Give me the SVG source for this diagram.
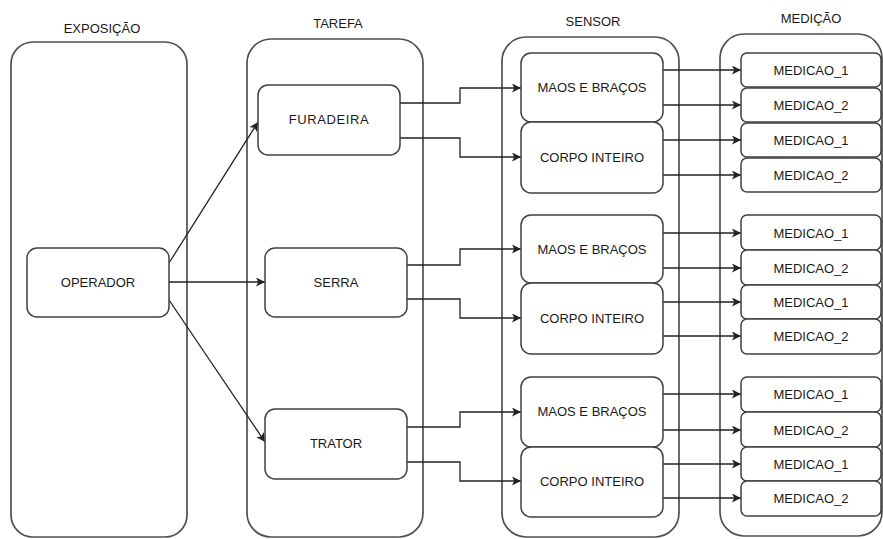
<svg xmlns="http://www.w3.org/2000/svg" width="883" height="539" viewBox="0 0 883 539">
  <defs>
    <marker id="arrow" viewBox="0 0 10 10" refX="10" refY="5" markerWidth="9" markerHeight="9" markerUnits="userSpaceOnUse" orient="auto">
      <path d="M0,0 L10,5 L0,10 L2.5,5 Z" fill="#222"/>
    </marker>
  </defs>
  <style>
    text { font-family: "Liberation Sans", Arial, sans-serif; font-size: 13px; fill: #1a1a1a; text-anchor: middle; }
    .lane { fill: none; stroke: #505050; stroke-width: 1.7; }
    .node { fill: #fff; stroke: #404040; stroke-width: 1.5; }
    .edge { fill: none; stroke: #222; stroke-width: 1.3; marker-end: url(#arrow); }
  </style>
  <rect width="883" height="539" fill="#fff"/>

  <!-- lanes -->
  <g id="lane-exposicao">
    <rect class="lane" x="11" y="42" width="176" height="495" rx="22"/>
    <text x="102" y="33">EXPOSIÇÃO</text>
  </g>
  <g id="lane-tarefa">
    <rect class="lane" x="247" y="39" width="176" height="498" rx="24"/>
    <text x="338" y="28">TAREFA</text>
  </g>
  <g id="lane-sensor">
    <rect class="lane" x="502" y="37" width="177" height="500" rx="24"/>
    <text x="593" y="26">SENSOR</text>
  </g>
  <g id="lane-medicao">
    <rect class="lane" x="720" y="34" width="162" height="502" rx="24"/>
    <text x="811" y="23">MEDIÇÃO</text>
  </g>

  <!-- connectors -->
  <g id="connectors">
    <path class="edge" d="M169,263 L258,122"/>
    <path class="edge" d="M169,282 L265,282"/>
    <path class="edge" d="M169,300 L265,442"/>

    <path class="edge" d="M400,103 H460 V88 H521"/>
    <path class="edge" d="M400,138 H460 V157 H521"/>
    <path class="edge" d="M407,265 H460 V249 H521"/>
    <path class="edge" d="M407,299 H460 V318 H521"/>
    <path class="edge" d="M407,427 H460 V412 H521"/>
    <path class="edge" d="M407,462 H460 V481 H521"/>

    <path class="edge" d="M663,70 H741"/>
    <path class="edge" d="M663,105 H741"/>
    <path class="edge" d="M663,140 H741"/>
    <path class="edge" d="M663,175 H741"/>
    <path class="edge" d="M663,233 H741"/>
    <path class="edge" d="M663,268 H741"/>
    <path class="edge" d="M663,302 H741"/>
    <path class="edge" d="M663,336 H741"/>
    <path class="edge" d="M663,394 H741"/>
    <path class="edge" d="M663,430 H741"/>
    <path class="edge" d="M663,464 H741"/>
    <path class="edge" d="M663,498 H741"/>
  </g>

  <!-- exposure -->
  <g id="operador">
    <rect class="node" x="27" y="248" width="142" height="69" rx="10"/>
    <text x="98" y="287">OPERADOR</text>
  </g>

  <!-- tasks -->
  <g id="furadeira">
    <rect class="node" x="258" y="85" width="142" height="70" rx="10"/>
    <text x="329" y="124" letter-spacing="0.6">FURADEIRA</text>
  </g>
  <g id="serra">
    <rect class="node" x="265" y="248" width="142" height="69" rx="10"/>
    <text x="336" y="287">SERRA</text>
  </g>
  <g id="trator">
    <rect class="node" x="265" y="409" width="142" height="70" rx="10"/>
    <text x="336" y="448">TRATOR</text>
  </g>

  <!-- sensors -->
  <g id="maos-1">
    <rect class="node" x="521" y="53" width="142" height="69" rx="10"/>
    <text x="592" y="92">MAOS E BRAÇOS</text>
  </g>
  <g id="corpo-1">
    <rect class="node" x="521" y="122" width="142" height="71" rx="10"/>
    <text x="592" y="162">CORPO INTEIRO</text>
  </g>
  <g id="maos-2">
    <rect class="node" x="521" y="215" width="142" height="68" rx="10"/>
    <text x="592" y="254">MAOS E BRAÇOS</text>
  </g>
  <g id="corpo-2">
    <rect class="node" x="521" y="283" width="142" height="71" rx="10"/>
    <text x="592" y="323">CORPO INTEIRO</text>
  </g>
  <g id="maos-3">
    <rect class="node" x="521" y="377" width="142" height="70" rx="10"/>
    <text x="592" y="416">MAOS E BRAÇOS</text>
  </g>
  <g id="corpo-3">
    <rect class="node" x="521" y="447" width="142" height="70" rx="10"/>
    <text x="592" y="486">CORPO INTEIRO</text>
  </g>

  <!-- measurements -->
  <g id="med-1-1"><rect class="node" x="741" y="53" width="140" height="34" rx="6"/><text x="811" y="75">MEDICAO_1</text></g>
  <g id="med-1-2"><rect class="node" x="741" y="88" width="140" height="34" rx="6"/><text x="811" y="110">MEDICAO_2</text></g>
  <g id="med-1-3"><rect class="node" x="741" y="123" width="140" height="34" rx="6"/><text x="811" y="145">MEDICAO_1</text></g>
  <g id="med-1-4"><rect class="node" x="741" y="158" width="140" height="34" rx="6"/><text x="811" y="180">MEDICAO_2</text></g>

  <g id="med-2-1"><rect class="node" x="741" y="215" width="140" height="35" rx="6"/><text x="811" y="238">MEDICAO_1</text></g>
  <g id="med-2-2"><rect class="node" x="741" y="250" width="140" height="35" rx="6"/><text x="811" y="273">MEDICAO_2</text></g>
  <g id="med-2-3"><rect class="node" x="741" y="285" width="140" height="34" rx="6"/><text x="811" y="307">MEDICAO_1</text></g>
  <g id="med-2-4"><rect class="node" x="741" y="319" width="140" height="35" rx="6"/><text x="811" y="341">MEDICAO_2</text></g>

  <g id="med-3-1"><rect class="node" x="741" y="377" width="140" height="35" rx="6"/><text x="811" y="399">MEDICAO_1</text></g>
  <g id="med-3-2"><rect class="node" x="741" y="412" width="140" height="35" rx="6"/><text x="811" y="435">MEDICAO_2</text></g>
  <g id="med-3-3"><rect class="node" x="741" y="447" width="140" height="34" rx="6"/><text x="811" y="469">MEDICAO_1</text></g>
  <g id="med-3-4"><rect class="node" x="741" y="481" width="140" height="35" rx="6"/><text x="811" y="503">MEDICAO_2</text></g>
</svg>
